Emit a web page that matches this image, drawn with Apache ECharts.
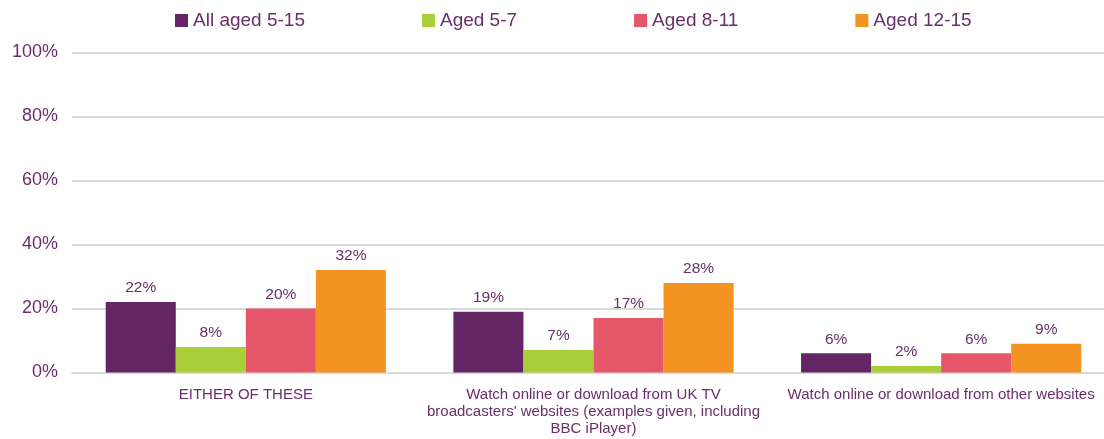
<!DOCTYPE html>
<html>
<head>
<meta charset="utf-8">
<script src="https://cdn.jsdelivr.net/npm/echarts@6/dist/echarts.min.js"></script>
<style>
  html, body { margin: 0; padding: 0; background: #ffffff; }
  #chart { width: 1104px; height: 439px; }
</style>
</head>
<body>
<div id="chart"></div>
<script>
// Categories of online TV viewing
const categories = [
  'EITHER OF THESE',
  "Watch online or download from UK TV\nbroadcasters' websites (examples given, including\nBBC iPlayer)",
  'Watch online or download from other websites'
];

// Percentage of children in each age group
const allAged5to15 = [22, 19, 6];
const aged5to7 = [8, 7, 2];
const aged8to11 = [20, 17, 6];
const aged12to15 = [32, 28, 9];

const seriesNames = ['All aged 5-15', 'Aged 5-7', 'Aged 8-11', 'Aged 12-15'];
const seriesData = [allAged5to15, aged5to7, aged8to11, aged12to15];
const colors = ['#632563', '#a9cf38', '#e6576a', '#f39321'];

const textColor = '#6b2d6b';
const fontFamily = '"Liberation Sans", Arial, sans-serif';

const chart = echarts.init(document.getElementById('chart'), null, { renderer: 'canvas' });

chart.setOption({
  animation: false,
  color: colors,
  textStyle: { fontFamily: fontFamily },
  legend: {
    top: 11,
    left: 175,
    padding: 0,
    icon: 'rect',
    itemWidth: 13,
    itemHeight: 13,
    itemGap: 117,
    textStyle: { color: textColor, fontSize: 19, fontFamily: fontFamily },
    data: seriesNames
  },
  grid: {
    left: 72,
    top: 52.5,
    width: 1043,
    height: 320,
    containLabel: false,
    outerBoundsMode: 'none'
  },
  xAxis: {
    type: 'category',
    data: categories,
    axisTick: { show: false },
    axisLine: { lineStyle: { color: '#d9d9d9', width: 2 } },
    axisLabel: {
      color: textColor,
      fontSize: 15,
      lineHeight: 17,
      margin: 14,
      interval: 0,
      fontFamily: fontFamily
    }
  },
  yAxis: {
    type: 'value',
    min: 0,
    max: 100,
    interval: 20,
    axisLine: { show: false },
    axisTick: { show: false },
    splitLine: { lineStyle: { color: '#d9d9d9', width: 2 } },
    axisLabel: {
      color: textColor,
      fontSize: 18,
      margin: 14,
      formatter: '{value}%',
      fontFamily: fontFamily
    }
  },
  series: seriesNames.map((name, i) => ({
    name: name,
    type: 'bar',
    data: seriesData[i],
    barGap: '0%',
    barCategoryGap: '19.4%',
    itemStyle: { color: colors[i] },
    label: {
      show: true,
      position: 'top',
      distance: 6,
      color: textColor,
      fontSize: 15.5,
      fontFamily: fontFamily,
      formatter: '{c}%'
    }
  }))
});
</script>
</body>
</html>
